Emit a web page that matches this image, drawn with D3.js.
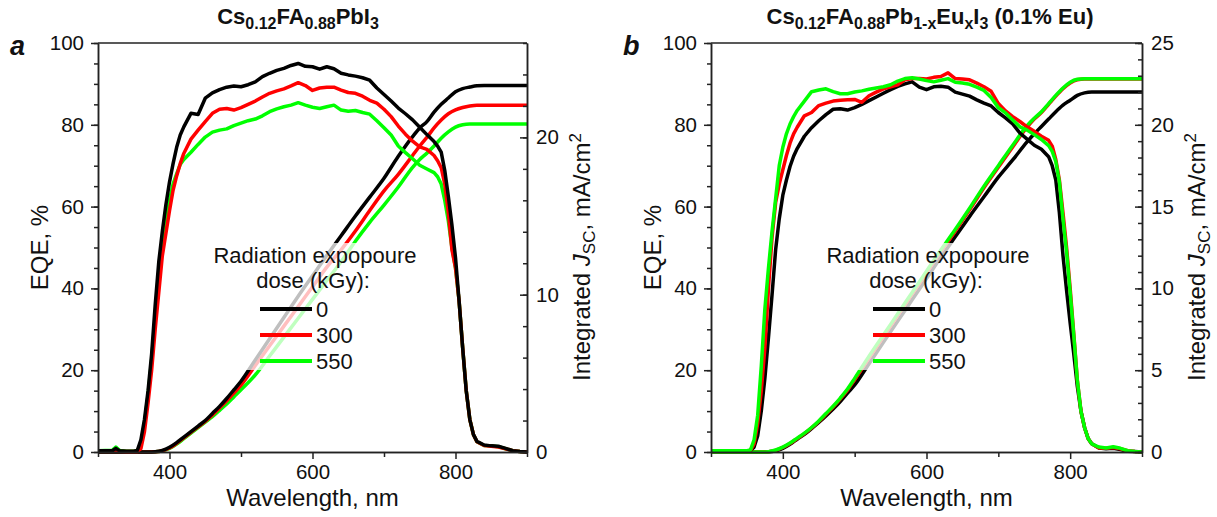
<!DOCTYPE html>
<html>
<head>
<meta charset="utf-8">
<script src="https://cdn.jsdelivr.net/npm/d3@7"></script>
<style>
  body { margin: 0; background: #fff; }
  svg text { font-family: Arial, "Liberation Sans", sans-serif; fill: #111; }
</style>
</head>
<body>
<div class="container"></div>
<script>
// wavelength grid for EQE curves (nm)
const wl = [300,320,325,330,340,350,355,
  360,365,370,375,380,385,390,395,
  400,405,410,415,420,
  430,440,450,460,470,480,490,500,510,520,
  530,540,550,560,570,580,590,600,610,620,630,640,650,660,670,680,690,700,710,720,730,740,750,760,770,
  775,780,785,790,795,800,805,810,815,820,825,830,
  840,850,860,870,880,890,900]

// panel a : Cs0.12FA0.88PbI3, EQE %
const eqeA0 = [0.3,0.3,0.9,0.3,0.2,0.2,0.4,
  3,8,15,24,36,46.5,54,60.5,
  66,70.5,74.5,77.5,79.5,
  82.8,82.5,86.5,87.8,88.6,89.2,89.5,89.3,89.8,90.5,
  91.8,92.6,93.3,93.8,94.5,95,94.3,94.2,93.6,94.2,93.7,92.6,92.2,91.9,91.5,90.9,89,87.4,85.8,84.1,82.7,81.2,79.4,77.6,75.9,
  74.8,73.3,68.8,62.5,55.5,47.5,37,25.5,15,8,4.3,2.6,
  1.7,1.5,1.4,0.9,0.3,0.1,0]
const eqeA300 = [0.2,0.2,0.5,0.2,0.1,0.1,0.1,
  0.8,5,12,20,30,39,48,53.5,
  59,64,67.5,70.5,73,
  76.5,78.7,80.8,82.8,83.8,84,83.6,84.2,85,85.8,
  86.8,87.7,88.3,88.8,89.5,90.3,89.6,88.4,89,89.2,89.2,88.5,87.9,87.7,87,86,85.3,83.8,82,79.7,77.7,76,74.6,74,72.5,
  71.2,69.5,65.5,58.5,49.5,45,37,25.5,15,8,4.3,2.5,
  1.6,1.4,1.2,0.8,0.3,0.1,0]
const eqeA550 = [0.3,0.4,1.2,0.4,0.2,0.2,0.3,
  2,7,14,22.5,33,42.5,50.5,56.5,
  61.5,65.5,68,70.3,71.5,
  73.3,75.2,77,78.2,78.7,79,79.8,80.4,81,81.4,
  82.2,83.2,83.9,84.4,84.8,85.4,84.8,84.3,84,84.4,84.8,83.6,83.3,83.5,83,82.6,81,79.3,77.5,74.8,73.2,71.7,70.1,69.2,68.3,
  67.3,65.5,61.5,56.5,50,45,37,25.5,15,8,4.3,2.5,
  1.6,1.5,1.3,0.8,0.3,0.1,0]

// panel b : Cs0.12FA0.88Pb1-xEuxI3, EQE %
const eqeB0 = [0.2,0.3,0.3,0.3,0.3,0.3,0.4,
  1.2,4,10,18,28,38.5,49.5,57,
  62.8,66.5,69.8,72.3,74.2,
  77.2,79.3,81,82.5,83.8,83.9,83.6,84.2,85,85.9,
  86.8,87.7,88.6,89.4,90,90.5,89.2,88.6,89.3,89.4,89.2,88,87.5,87,86.1,85.3,84.6,83,81.7,80.2,78,76.5,75,74,72.2,
  70,66.5,58.5,48,39.5,31.5,24,16,10,6,3.3,2,
  1,0.8,0.9,0.6,0.2,0.1,0]
const eqeB300 = [0.3,0.3,0.3,0.3,0.3,0.3,0.4,
  2,7,15,25.5,40,52.5,61,65.5,
  69,72.5,75.5,77.8,79.4,
  82.2,83,84.7,85.3,85.8,86,86.1,86.2,85.5,87.1,
  88,88.8,89.3,89.8,91,91.3,91.3,91.2,91.6,91.8,92.7,91.3,91.2,91,90.2,89.3,88.2,85.2,83.4,82,80.8,79.5,78.4,77.2,76.2,
  74.8,71.5,66.5,58.5,50,40,29,17.5,10,6,3.3,2,
  1,0.9,1.1,0.8,0.3,0.1,0]
const eqeB550 = [0.3,0.3,0.3,0.3,0.3,0.3,0.5,
  3,9,21,35,45,54,62,70,
  74.5,77.8,80.2,82,83.5,
  85.8,88.1,88.5,88.8,88.1,87.6,87.6,88,88.3,88.7,
  89,89.3,89.8,90.7,91.3,91.5,91.2,90.8,90.5,90.9,91.3,90.4,90.2,89.9,89.2,88.4,86.7,84.2,82.9,81.2,79.5,78.7,77.6,76.4,74.9,
  73.5,71,66,57,49,39,28.5,17.5,10,6,3.3,2,
  1.2,1,1.3,0.9,0.3,0.1,0]

// wavelength grid for integrated Jsc curves (nm)
const jscWl = [300,370,380,390,400,410,420,430,440,450,460,470,480,490,500,
  520,540,560,580,600,620,640,660,680,700,720,740,
  750,760,770,780,790,800,810,820,830,840,860,900]

// integrated Jsc, mA/cm2
const jscA0 = [0,0,0.02,0.1,0.3,0.6,0.95,1.3,1.65,2.0,2.45,2.9,3.4,3.95,4.5,
  5.85,7.2,8.55,9.9,11.2,12.5,13.75,15.0,16.2,17.4,18.8,20.05,
  20.6,21.0,21.6,22.1,22.5,22.9,23.1,23.2,23.28,23.3,23.3,23.3]
const jscA300 = [0,0,0.01,0.08,0.25,0.55,0.9,1.25,1.6,1.95,2.35,2.8,3.25,3.75,4.25,
  5.5,6.75,8.0,9.25,10.5,11.75,12.85,14.05,15.35,16.6,17.65,18.85,
  19.45,20.0,20.6,21.1,21.5,21.75,21.9,22.0,22.05,22.05,22.05,22.05]
const jscA550 = [0,0,0.01,0.07,0.22,0.5,0.85,1.2,1.55,1.9,2.25,2.65,3.05,3.5,3.95,
  4.9,6.1,7.3,8.5,9.7,10.9,12.1,13.4,14.6,15.7,16.85,18.1,
  18.6,19.0,19.45,19.95,20.35,20.65,20.8,20.85,20.85,20.85,20.85,20.85]
const jscB0 = [0,0,0.01,0.07,0.22,0.47,0.78,1.08,1.43,1.8,2.2,2.62,3.08,3.6,4.1,
  5.4,6.7,8.0,9.3,10.6,11.9,13.15,14.4,15.6,16.8,17.85,18.95,
  19.45,19.9,20.35,20.8,21.2,21.5,21.8,21.95,22.0,22.0,22.0,22.0]
const jscB300 = [0,0,0.02,0.1,0.28,0.52,0.82,1.12,1.47,1.86,2.3,2.75,3.25,3.78,4.42,
  5.75,7.05,8.35,9.65,10.95,12.25,13.5,14.8,16.15,17.4,18.65,19.85,
  20.35,20.75,21.25,21.75,22.2,22.55,22.75,22.8,22.8,22.8,22.8,22.8]
const jscB550 = [0,0,0.02,0.12,0.3,0.55,0.85,1.15,1.5,1.9,2.35,2.8,3.3,3.85,4.5,
  5.85,7.15,8.45,9.75,11.05,12.35,13.6,14.9,16.25,17.5,18.75,19.95,
  20.4,20.8,21.3,21.8,22.25,22.6,22.78,22.82,22.82,22.82,22.82,22.82]

const doses = ["0", "300", "550"]
const colors = ["#000000", "#ff0000", "#00ff00"]
const xTicksMajor = [400, 600, 800]
const xTicksMinor = [300, 500, 700, 900]

const width = 1217
const height = 517
const plotTop = 43
const plotBottom = 452

const svg = d3.select(".container")
  .append("svg")
    .attr("width", width)
    .attr("height", height)

const panels = [
  {
    letter: "a", left: 98, right: 527, titleX: 298,
    title: [["Cs", 0], ["0.12", 1], ["FA", 0], ["0.88", 1], ["PbI", 0], ["3", 1]],
    eqe: [eqeA0, eqeA300, eqeA550], jsc: [jscA0, jscA300, jscA550],
    jMax: 26, jMajor: [0, 10, 20], jMinor: d3.range(0, 27, 2),
    order: [2, 1, 0]
  },
  {
    letter: "b", left: 711, right: 1142, titleX: 930,
    title: [["Cs", 0], ["0.12", 1], ["FA", 0], ["0.88", 1], ["Pb", 0], ["1-x", 1], ["Eu", 0], ["x", 1], ["I", 0], ["3", 1], [" (0.1% Eu)", 0]],
    eqe: [eqeB0, eqeB300, eqeB550], jsc: [jscB0, jscB300, jscB550],
    jMax: 25, jMajor: [0, 5, 10, 15, 20, 25], jMinor: d3.range(0, 26, 1),
    order: [0, 1, 2]
  }
]

const styleAxis = g => {
  g.selectAll(".domain").attr("stroke", "#222").attr("stroke-width", 1.5)
  g.selectAll(".tick line").attr("stroke", "#222").attr("stroke-width", 1.5)
  g.selectAll(".tick text").style("font-size", "20.5px").attr("fill", "#111")
}

panels.forEach(p => {
  const g = svg.append("g")

  const xScale = d3.scaleLinear().domain([300, 900]).range([p.left, p.right])
  const yScale = d3.scaleLinear().domain([0, 100]).range([plotBottom, plotTop])
  const jScale = d3.scaleLinear().domain([0, p.jMax]).range([plotBottom, plotTop])

  // curves
  const lineE = d3.line().x(d => xScale(d[0])).y(d => yScale(d[1]))
  const lineJ = d3.line().x(d => xScale(d[0])).y(d => jScale(d[1])).curve(d3.curveMonotoneX)

  p.order.forEach(i => {
    g.append("path")
      .attr("d", lineJ(d3.zip(jscWl, p.jsc[i])))
      .attr("fill", "none").attr("stroke", colors[i])
      .attr("stroke-width", 3.5).attr("stroke-linejoin", "round")
  })
  p.order.forEach(i => {
    g.append("path")
      .attr("d", lineE(d3.zip(wl, p.eqe[i])))
      .attr("fill", "none").attr("stroke", colors[i])
      .attr("stroke-width", 3.5).attr("stroke-linejoin", "round")
  })

  // x axis
  g.append("g").attr("transform", `translate(0, ${plotBottom})`)
    .call(d3.axisBottom(xScale).tickValues(xTicksMinor).tickSize(5).tickSizeOuter(0).tickFormat(""))
    .call(styleAxis)
  g.append("g").attr("transform", `translate(0, ${plotBottom})`)
    .call(d3.axisBottom(xScale).tickValues(xTicksMajor).tickSize(7).tickSizeOuter(0).tickPadding(5))
    .call(styleAxis)

  // left EQE axis
  g.append("g").attr("transform", `translate(${p.left}, 0)`)
    .call(d3.axisLeft(yScale).tickValues(d3.range(0, 101, 5)).tickSize(4).tickSizeOuter(0).tickFormat(""))
    .call(styleAxis)
  g.append("g").attr("transform", `translate(${p.left}, 0)`)
    .call(d3.axisLeft(yScale).tickValues(d3.range(0, 101, 20)).tickSize(7).tickSizeOuter(0).tickPadding(7))
    .call(styleAxis)

  // right Jsc axis, ticks pointing inward
  g.append("g").attr("transform", `translate(${p.right}, 0)`)
    .call(d3.axisRight(jScale).tickValues(p.jMinor).tickSize(-4).tickSizeOuter(0).tickFormat(""))
    .call(styleAxis)
  g.append("g").attr("transform", `translate(${p.right}, 0)`)
    .call(d3.axisRight(jScale).tickValues(p.jMajor).tickSize(-7).tickSizeOuter(0).tickPadding(9))
    .call(styleAxis)

  // top frame
  g.append("line")
    .attr("x1", p.left).attr("x2", p.right)
    .attr("y1", plotTop).attr("y2", plotTop)
    .attr("stroke", "#222").attr("stroke-width", 1.5)

  // titles
  const cx = (p.left + p.right) / 2
  const title = g.append("text")
    .attr("x", p.titleX).attr("y", 24)
    .attr("text-anchor", "middle")
    .style("font-weight", "bold").style("font-size", "22px")
  let shifted = 0
  p.title.forEach(([t, sub]) => {
    const dy = sub ? 5 - shifted : -shifted
    shifted = sub ? 5 : 0
    title.append("tspan").attr("dy", dy)
      .style("font-size", sub ? "16px" : "22px").text(t)
  })

  g.append("text")
    .attr("x", p.left - 88).attr("y", 55)
    .style("font-weight", "bold").style("font-style", "italic").style("font-size", "27px")
    .text(p.letter)

  g.append("text")
    .attr("x", cx).attr("y", 506)
    .attr("text-anchor", "middle").style("font-size", "24px")
    .text("Wavelength, nm")

  g.append("text")
    .attr("transform", `translate(${p.left - 50}, ${(plotTop + plotBottom) / 2}) rotate(-90)`)
    .attr("text-anchor", "middle").style("font-size", "24px")
    .text("EQE, %")

  const rt = g.append("text")
    .attr("transform", `translate(${p.right + 63}, 257) rotate(-90)`)
    .attr("text-anchor", "middle").style("font-size", "24px")
  rt.append("tspan").text("Integrated ")
  rt.append("tspan").style("font-style", "italic").text("J")
  rt.append("tspan").attr("dy", 5).style("font-size", "17px").text("SC")
  rt.append("tspan").attr("dy", -5).text(", mA/cm")
  rt.append("tspan").attr("dy", -9).style("font-size", "17px").text("2")

  // legend with translucent background
  const lg = g.append("g").attr("transform", `translate(${p.left}, 0)`)
  lg.append("rect")
    .attr("x", 107).attr("y", 243).attr("width", 220).attr("height", 127)
    .attr("fill", "#fff").attr("fill-opacity", 0.75)
  lg.append("text").attr("x", 217).attr("y", 263)
    .attr("text-anchor", "middle").style("font-size", "22px")
    .text("Radiation expopoure")
  lg.append("text").attr("x", 215).attr("y", 288)
    .attr("text-anchor", "middle").style("font-size", "22px")
    .text("dose (kGy):")
  doses.forEach((d, i) => {
    const ly = 309 + i * 26
    lg.append("line")
      .attr("x1", 162).attr("x2", 214).attr("y1", ly).attr("y2", ly)
      .attr("stroke", colors[i]).attr("stroke-width", 4)
    lg.append("text").attr("x", 218).attr("y", ly + 8)
      .style("font-size", "22px").text(d)
  })
})
</script>
</body>
</html>
